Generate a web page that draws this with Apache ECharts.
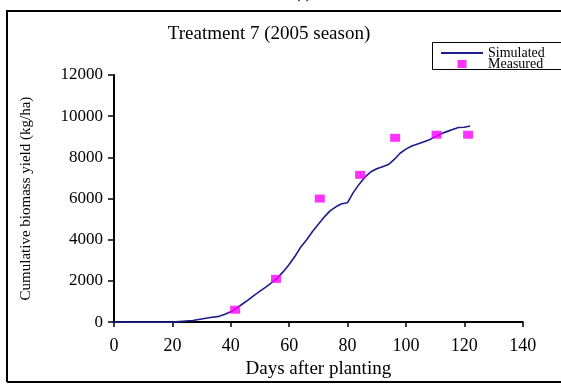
<!DOCTYPE html>
<html>
<head>
<meta charset="utf-8">
<script src="https://cdn.jsdelivr.net/npm/echarts@6/dist/echarts.min.js"></script>
<style>
html,body{margin:0;padding:0;background:#fff;overflow:hidden;}
#chart{width:561px;height:384px;}
</style>
</head>
<body>
<div id="chart"></div>
<script>
// Simulated cumulative biomass (days after planting, kg/ha)
const simDays = [0, 20, 20.5, 27, 30, 33, 36, 38, 40, 42, 44, 46, 48, 50, 52, 54, 56, 58, 60, 62, 64, 66, 68, 70, 72, 74, 76, 78, 80, 82, 84, 86, 88, 90, 92, 94, 96, 98, 100, 102, 104, 106, 108, 110, 112, 114, 116, 118, 120, 122];
const simValues = [0, 0, 80, 80, 150, 220, 280, 380, 500, 680, 880, 1080, 1300, 1500, 1700, 1920, 2150, 2450, 2800, 3200, 3650, 4000, 4400, 4750, 5100, 5400, 5600, 5750, 5800, 6300, 6700, 7050, 7300, 7450, 7550, 7650, 7900, 8200, 8400, 8550, 8650, 8750, 8850, 9000, 9150, 9250, 9350, 9450, 9460, 9520];
// Measured
const measDays = [41.5, 55.5, 70.5, 84.3, 96.3, 110.5, 121.3];
const measValues = [600, 2100, 6000, 7150, 8950, 9100, 9100];
// Axis ticks
const xTicks = [0, 20, 40, 60, 80, 100, 120, 140];
const yTicks = [0, 2000, 4000, 6000, 8000, 10000, 12000];

const FONT = '"Liberation Serif", "Times New Roman", serif';
const chart = echarts.init(document.getElementById('chart'), null, {renderer: 'canvas'});
chart.setOption({
  animation: false,
  backgroundColor: '#fff',
  grid: {left: 114, right: 38.3, top: 75, bottom: 55, containLabel: false},
  xAxis: {
    type: 'value', min: xTicks[0], max: xTicks[xTicks.length - 1], interval: 20,
    name: 'Days after planting', nameLocation: 'middle', nameGap: 32,
    nameTextStyle: {fontFamily: FONT, fontSize: 19, color: '#000'},
    axisLine: {show: true, onZero: false, lineStyle: {color: '#000', width: 2}},
    axisTick: {show: true, length: 5, lineStyle: {color: '#000', width: 1.5}},
    axisLabel: {fontFamily: FONT, fontSize: 18, color: '#000', margin: 15},
    splitLine: {show: false}
  },
  yAxis: {
    type: 'value', min: yTicks[0], max: yTicks[yTicks.length - 1], interval: 2000,
    name: 'Cumulative biomass yield (kg/ha)', nameLocation: 'middle', nameGap: 80,
    nameRotate: 90,
    nameTextStyle: {fontFamily: FONT, fontSize: 15, color: '#000'},
    axisLine: {show: true, lineStyle: {color: '#000', width: 2}},
    axisTick: {show: true, length: 6, lineStyle: {color: '#000', width: 1.5}},
    axisLabel: {fontFamily: FONT, fontSize: 17, color: '#000', margin: 11,
      formatter: v => String(v)},
    splitLine: {show: false}
  },
  legend: {
    orient: 'vertical', left: 440, top: 46,
    padding: 0,
    itemWidth: 42, itemHeight: 8, itemGap: -3, symbolKeepAspect: true,
    textStyle: {fontFamily: FONT, fontSize: 14, color: '#000', lineHeight: 11},
    data: [
      {name: 'Simulated', itemStyle: {opacity: 0, color: 'rgba(0,0,0,0)', borderWidth: 0}},
      {name: 'Measured', icon: 'path://M0,0h9v8h-9z'}
    ]
  },
  graphic: [
    {type: 'polyline', shape: {points: [[7, 382], [7, 11], [900, 11]]}, style: {fill: null, stroke: '#000', lineWidth: 2}, silent: true, z: 100},
    {type: 'polyline', shape: {points: [[7, 382], [900, 382]]}, style: {fill: null, stroke: '#000', lineWidth: 2}, silent: true, z: 100},
    {type: 'polyline', shape: {points: [[900, 42.5], [432.5, 42.5], [432.5, 69.5], [900, 69.5]]}, style: {fill: null, stroke: '#000', lineWidth: 1}, silent: true, z: 100},
    {type: 'text', x: 269, y: 34, style: {text: 'Treatment 7 (2005 season)', font: '19px ' + FONT, fill: '#000', align: 'center', verticalAlign: 'middle'}},
    {type: 'text', x: 303, y: 2, style: {text: '(f)', font: 'bold 16px ' + FONT, fill: '#000', align: 'center', verticalAlign: 'bottom'}}
  ],
  series: [
    {
      name: 'Simulated', type: 'line', showSymbol: false, symbol: 'none',
      data: simDays.map((d, i) => [d, simValues[i]]),
      lineStyle: {color: '#1c1c8a', width: 1.6}, itemStyle: {color: '#1c1c8a'}
    },
    {
      name: 'Measured', type: 'scatter', symbol: 'rect', symbolSize: [10, 8],
      data: measDays.map((d, i) => [d, measValues[i]]),
      itemStyle: {color: '#ff00ff'}, z: 5
    }
  ]
});
</script>
</body>
</html>
